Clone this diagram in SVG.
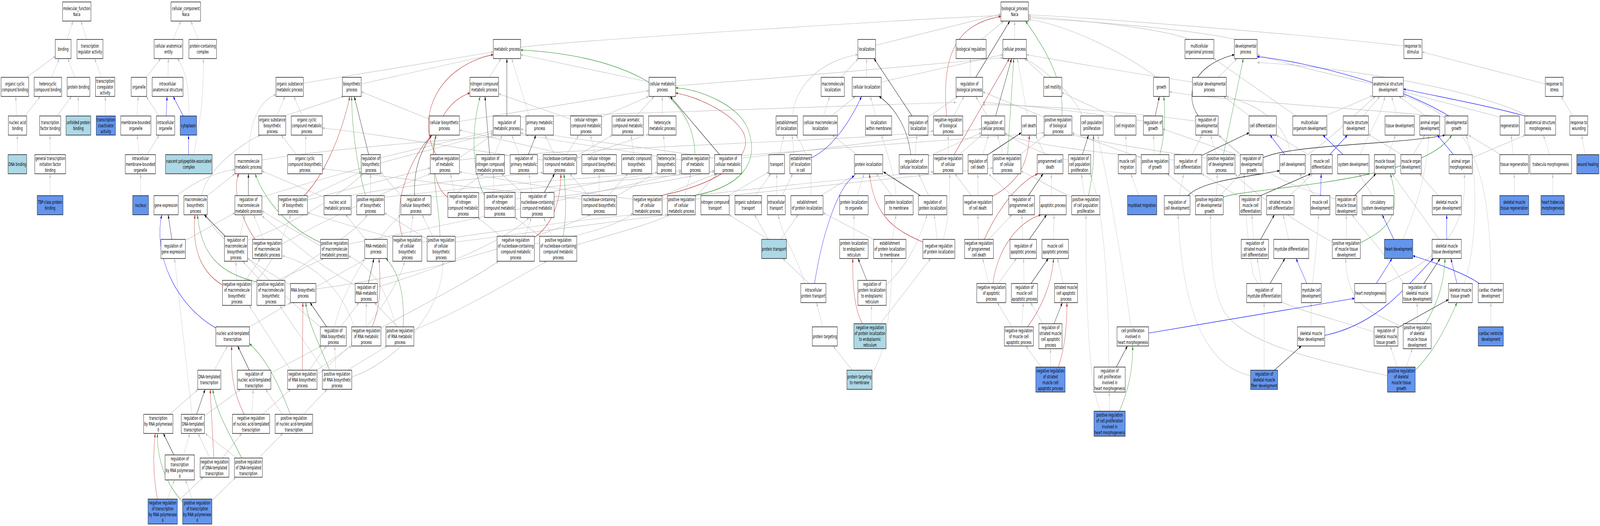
<svg xmlns="http://www.w3.org/2000/svg" width="7317" height="1347" viewBox="0 0 7317 1347" preserveAspectRatio="none">
<style>
svg{width:100vw;height:100vh}
text{font-family:"DejaVu Sans","Liberation Sans",sans-serif;font-size:13px;text-anchor:middle;fill:#000}
rect.bg{fill:#fff;stroke:none}
.n rect{fill:#fff;stroke:#000;stroke-width:1.3}
.lb rect{fill:#add8e6;stroke:#000;stroke-width:1.3}
.db rect{fill:#6495ed;stroke:#000;stroke-width:1.3}
#edges path{fill:none;stroke-width:1.2}
.e path{stroke:#bebebe;marker-end:url(#ae)}
.k path{stroke:#000;marker-end:url(#ak)}
.r path{stroke:#b22222;marker-end:url(#ar)}
.g path{stroke:#228b22;marker-end:url(#ag)}
.b path{stroke:#0000ff;marker-end:url(#ab)}
</style>
<defs>
<marker id="ae" viewBox="0 0 10 7" refX="10" refY="3.5" markerWidth="10" markerHeight="7" markerUnits="userSpaceOnUse" orient="auto"><path d="M0,0L10,3.5L0,7z" fill="#bebebe"/></marker>
<marker id="ak" viewBox="0 0 10 7" refX="10" refY="3.5" markerWidth="10" markerHeight="7" markerUnits="userSpaceOnUse" orient="auto"><path d="M0,0L10,3.5L0,7z" fill="#000"/></marker>
<marker id="ar" viewBox="0 0 10 7" refX="10" refY="3.5" markerWidth="10" markerHeight="7" markerUnits="userSpaceOnUse" orient="auto"><path d="M0,0L10,3.5L0,7z" fill="#b22222"/></marker>
<marker id="ag" viewBox="0 0 10 7" refX="10" refY="3.5" markerWidth="10" markerHeight="7" markerUnits="userSpaceOnUse" orient="auto"><path d="M0,0L10,3.5L0,7z" fill="#228b22"/></marker>
<marker id="ab" viewBox="0 0 10 7" refX="10" refY="3.5" markerWidth="10" markerHeight="7" markerUnits="userSpaceOnUse" orient="auto"><path d="M0,0L10,3.5L0,7z" fill="#0000ff"/></marker>
</defs>
<rect class="bg" x="0" y="0" width="7317" height="1347"/>
<g id="edges">
<g class="e">
<path d="M306,101L334,54"/><path d="M396,101L370,54"/><path d="M122,198L253,144"/><path d="M236,198L271,150"/><path d="M342,198L310,150"/><path d="M464,198L433,150"/><path d="M76,297L72,247"/><path d="M114,297L184,247"/><path d="M261,297L327,247"/><path d="M358,297L358,247"/><path d="M482,297L482,247"/><path d="M79,396L79,346"/><path d="M229,396L229,346"/><path d="M229,501L229,445"/><path d="M791,101L827,54"/><path d="M907,101L873,54"/><path d="M669,198L735,150"/><path d="M768,198L770,150"/><path d="M864,297C864,220 850,180 811,150"/><path d="M626,297L632,247"/><path d="M727,297L669,247"/><path d="M637,396L627,346"/><path d="M672,396L728,346"/><path d="M643,501L643,445"/><path d="M885,396C920,300 930,250 930,150"/>
<path d="M2381,121C2700,100 4300,45 4577,40"/><path d="M4004,116L4577,36"/><path d="M4490,101L4590,54"/><path d="M4640,101L4640,54"/><path d="M5440,101C5300,70 4900,50 4703,42"/><path d="M5650,101C5400,70 4900,52 4703,46"/><path d="M6420,118C6000,90 5000,45 4703,38"/><path d="M5290,198C5100,120 4850,60 4703,50"/><path d="M4780,198L4685,150"/>
<path d="M3624,297C3640,200 3800,150 3923,140"/><path d="M3845,198L3925,150"/><path d="M3963,198L3963,150"/><path d="M4030,210L4586,140"/><path d="M3565,396L3585,346"/><path d="M3632,396L3622,346"/><path d="M3766,297L3794,247"/><path d="M3802,297L3912,247"/><path d="M4006,297L3980,247"/><path d="M4244,300L4380,247"/><path d="M3920,396L3806,346"/><path d="M4185,396L4193,346"/><path d="M4246,400L4488,340"/><path d="M3707,501C3720,430 3680,380 3640,346"/><path d="M3754,501L3915,445"/><path d="M3920,501L3952,445"/><path d="M4078,501L4007,445"/><path d="M4098,501C4090,440 4050,380 4031,346"/><path d="M4247,501L4201,445"/><path d="M3905,613L3905,550"/><path d="M4081,613L4098,550"/><path d="M3995,613L3765,545"/><path d="M4286,613L4272,550"/><path d="M4314,613C4340,560 4345,500 4343,445"/><path d="M3680,726C3650,660 3570,600 3560,550"/><path d="M3700,726L3580,662"/><path d="M3513,613L3334,550"/><path d="M3515,613L3450,550"/><path d="M3571,613L3650,550"/><path d="M3330,501L3517,440"/><path d="M3454,501L3525,445"/><path d="M3552,501L3552,445"/><path d="M3576,501L3625,445"/><path d="M4053,730C4150,680 4200,620 4240,550"/><path d="M3762,837L3734,775"/><path d="M3984,829L3986,782"/><path d="M4025,829L4256,662"/><path d="M3897,948L3810,886"/><path d="M3988,955C4060,900 4080,750 4078,662"/>
<path d="M4436,198L4438,150"/><path d="M4362,297L4408,247"/><path d="M4515,297L4462,247"/><path d="M4775,300L4494,235"/><path d="M4699,297L4652,150"/><path d="M4387,396L4490,345"/><path d="M4336,396L4336,346"/><path d="M4588,396L4561,346"/><path d="M4660,398L4780,346"/><path d="M4494,396L4521,346"/><path d="M4778,396L4735,346"/><path d="M4472,501L4472,445"/><path d="M4442,501L4367,445"/><path d="M4628,501L4521,445"/><path d="M4808,501L4808,445"/><path d="M4521,613L4628,550"/><path d="M4475,613L4472,550"/><path d="M4677,613L4673,550"/><path d="M4818,613L4820,550"/><path d="M4565,726L4648,662"/><path d="M4521,726L4494,662"/><path d="M4683,726L4681,662"/><path d="M4863,726L4836,662"/><path d="M4672,837L4680,775"/><path d="M4628,837L4561,775"/><path d="M4769,829L4713,775"/><path d="M4804,940L4804,893"/><path d="M4761,940L4691,886"/>
<path d="M1387,213L2256,133"/><path d="M1652,215L2256,139"/><path d="M2239,198L2291,150"/><path d="M2968,210L2381,140"/><path d="M2420,297L2340,150"/><path d="M1266,297L1303,247"/><path d="M1300,297L1570,247"/><path d="M1383,297L1344,247"/><path d="M1963,305L1652,235"/><path d="M2101,311L2968,232"/><path d="M3090,220C3600,200 4300,160 4586,148"/><path d="M2379,300L4372,262"/><path d="M1398,396L1398,346"/><path d="M1356,396L1286,346"/><path d="M1740,404L2255,335"/><path d="M2101,404L2256,344"/><path d="M2101,410C2500,380 4000,360 4269,335"/><path d="M2262,396L2297,346"/><path d="M2375,396L2340,346"/><path d="M1138,396C1140,300 1200,255 1262,242"/><path d="M1198,410C1500,380 2200,350 2420,346"/><path d="M1198,505C1500,450 2000,380 2255,340"/><path d="M809,501C900,460 1000,440 1074,434"/><path d="M948,501L1074,445"/><path d="M922,501C950,430 1100,370 1190,346"/><path d="M1406,505L1652,440"/><path d="M1406,512L1968,430"/><path d="M1597,501C1900,470 2300,450 2484,442"/><path d="M1482,505L1198,438"/><path d="M1695,501L1695,445"/><path d="M1758,505C2300,470 2900,445 3116,440"/><path d="M1834,501L1740,440"/><path d="M1971,505C2500,480 3100,450 3268,440"/><path d="M2091,493L2211,445"/><path d="M2079,493L2060,445"/><path d="M2258,493L2258,445"/><path d="M2356,510C2700,470 3000,440 3116,436"/><path d="M2387,493L2293,445"/><path d="M2534,505C2900,480 3200,450 3268,436"/><path d="M2431,493L2420,445"/><path d="M2609,305L2280,240"/><path d="M2750,300L2966,247"/><path d="M2910,297L2991,247"/><path d="M3029,297L3029,247"/><path d="M2536,396L2492,346"/><path d="M2591,396L2647,346"/><path d="M2635,400L2800,346"/><path d="M2637,405L2966,344"/><path d="M2484,410C2200,390 1700,340 1474,328"/><path d="M2723,396L2700,346"/><path d="M2661,405L2101,333"/><path d="M2898,396L2886,346"/><path d="M3042,396L3034,346"/><path d="M3116,410C2800,380 2500,360 2380,340"/><path d="M3243,405C3800,380 4500,350 4775,340"/><path d="M3268,405C3000,380 2500,350 2380,330"/><path d="M3391,405C3800,380 4300,340 4488,330"/><path d="M2692,501L2606,445"/><path d="M2740,501L2740,445"/><path d="M2781,501L2871,445"/><path d="M2812,505L3005,440"/><path d="M2661,510C2300,490 1700,450 1474,432"/><path d="M3011,505L3275,445"/><path d="M2895,510C2600,490 2300,460 2101,440"/><path d="M3028,510C3500,480 4000,450 4269,440"/><path d="M3178,505L3280,445"/><path d="M3131,501L3159,445"/><path d="M3180,510C3700,480 4300,440 4541,430"/><path d="M1877,605L1889,550"/><path d="M1796,610L1406,545"/><path d="M1929,620C2300,590 2700,560 2895,550"/><path d="M1978,605L1931,550"/><path d="M1953,612L1758,545"/><path d="M2082,620C2500,590 2900,560 3052,550"/><path d="M2400,605L2430,557"/><path d="M2290,605L2185,557"/><path d="M2444,625C2700,600 2850,570 2895,545"/><path d="M2524,605L2486,557"/><path d="M2470,605L2355,557"/><path d="M2638,627C2800,600 3000,570 3061,550"/><path d="M1671,613L1581,550"/><path d="M1205,613L1160,550"/><path d="M1289,625C1500,560 1800,480 1968,445"/><path d="M1466,630L1198,540"/><path d="M1593,625C2200,560 2900,470 3116,444"/><path d="M848,616L1074,545"/><path d="M1097,605L1120,550"/><path d="M1132,615C1400,560 1600,480 1660,445"/><path d="M1082,718L1079,669"/><path d="M1124,718L1190,662"/><path d="M1150,730C1250,680 1300,600 1330,550"/><path d="M1190,718L1110,669"/><path d="M1270,718L1480,662"/><path d="M1290,718C1450,650 1620,600 1680,550"/><path d="M1445,735L1668,665"/><path d="M1445,740C2000,700 2500,600 2700,550"/><path d="M1330,730C1200,690 1000,620 940,550"/><path d="M1141,837L1330,775"/><path d="M1726,735C2000,690 2300,620 2420,557"/><path d="M1624,730C1450,680 1300,600 1198,553"/><path d="M1558,837L1641,775"/><path d="M1530,837C1560,750 1700,620 1833,550"/><path d="M1470,840C1300,760 1200,700 1132,660"/><path d="M1675,837L1675,775"/><path d="M1742,840C1900,790 2150,720 2280,669"/><path d="M1620,837C1550,720 1400,670 1290,655"/><path d="M1819,837L1712,775"/><path d="M1893,845C2100,800 2400,700 2500,669"/><path d="M1810,837C1760,720 1680,680 1593,655"/><path d="M1414,948L1492,886"/><path d="M1449,948L1608,886"/><path d="M1330,948C1250,880 1180,820 1140,782"/><path d="M1450,960C1700,850 1830,720 1850,669"/><path d="M1535,948L1531,886"/><path d="M1590,948L1770,886"/><path d="M1609,965C1800,930 2030,800 2025,669"/><path d="M1480,948C1400,880 1320,820 1280,782"/><path d="M980,948L1040,886"/><path d="M1239,955L1470,886"/><path d="M1152,1061L1158,997"/><path d="M1200,1061L1330,997"/><path d="M1290,1061L1215,997"/><path d="M1387,1061L1496,997"/><path d="M776,1061L906,997"/><path d="M935,1065L1101,997"/><path d="M878,1061L798,662"/><path d="M959,1173L906,1110"/><path d="M1018,1173L1105,1110"/><path d="M1082,1173L938,1110"/><path d="M1183,1173L1293,1110"/><path d="M840,1165L868,1110"/><path d="M766,1278L798,1229"/><path d="M811,1285L930,1222"/><path d="M879,1278L848,1229"/><path d="M969,1282L1078,1222"/>
<path d="M5571,198L5657,150"/><path d="M5453,210C5200,190 4900,160 4694,140"/><path d="M4950,297C4900,230 4750,170 4690,150"/><path d="M5229,310C5000,290 4700,270 4494,262"/><path d="M5468,310C5200,290 4800,270 4494,268"/><path d="M5714,297L5595,247"/><path d="M5927,297L5551,150"/><path d="M6060,297L6277,245"/><path d="M5098,300L4856,237"/><path d="M4886,410C4800,400 4700,380 4595,340"/><path d="M5152,396L5148,346"/><path d="M5279,396L5275,346"/><path d="M5219,405C5100,380 5000,360 4902,340"/><path d="M5453,396L5496,346"/><path d="M5370,410C5000,390 4700,370 4595,343"/><path d="M5563,396L5536,346"/><path d="M5520,405C5200,380 5000,360 4902,345"/><path d="M5674,400L5317,330"/><path d="M5674,396L5575,346"/><path d="M5903,396C5880,300 5700,260 5608,247"/><path d="M5969,400C6100,350 6200,290 6290,247"/><path d="M5995,400L5837,346"/><path d="M4958,501L4946,445"/><path d="M4903,505C4800,480 4720,450 4669,438"/><path d="M5207,501L5172,445"/><path d="M5393,501L5413,445"/><path d="M5579,501L5674,445"/><path d="M5468,505L5338,445"/><path d="M5563,501L5567,445"/><path d="M5670,505L5496,445"/><path d="M5899,501L6002,445"/><path d="M6010,501L5943,445"/><path d="M5733,613L5725,550"/><path d="M5893,613L5868,550"/><path d="M5769,726L5749,662"/><path d="M6002,726C6010,680 6025,620 6030,550"/><path d="M5172,837C5140,700 5080,500 5020,346"/><path d="M5996,837L5996,775"/><path d="M5071,940C5070,700 5040,520 4985,445"/><path d="M5781,948L5781,775"/><path d="M5719,962C5450,930 5400,700 5387,550"/><path d="M5073,1053L5073,1004"/><path d="M5033,1053C4970,980 4966,700 4966,550"/><path d="M6277,215C6000,180 5800,150 5749,140"/><path d="M7067,215L6503,133"/><path d="M6235,297L6310,247"/><path d="M6389,297L6364,247"/><path d="M6520,297L6398,247"/><path d="M6608,300C6300,280 5600,260 5347,235"/><path d="M6860,300L6418,235"/><path d="M6990,297C6700,220 6100,170 5749,160"/><path d="M7192,297L7139,247"/><path d="M6219,396C6260,340 6320,290 6333,247"/><path d="M6349,396L6382,346"/><path d="M6410,396L6258,344"/><path d="M6463,396L6516,346"/><path d="M6733,404L6975,346"/><path d="M6920,396L6911,346"/><path d="M6862,396L6716,346"/><path d="M7086,396L7058,346"/><path d="M7249,396L7233,346"/><path d="M6109,510C5900,480 5700,420 5571,346"/><path d="M6276,501L6215,445"/><path d="M6577,501L6492,445"/><path d="M6925,501L6925,445"/><path d="M7101,501L7101,445"/><path d="M6157,613L6157,550"/><path d="M6093,620C5900,560 5700,480 5648,445"/><path d="M6415,613C6480,530 6530,430 6533,346"/><path d="M6582,613L6366,445"/><path d="M6335,726C6500,680 6720,620 6696,445"/><path d="M6419,727C6350,660 6250,600 6183,550"/><path d="M6696,726C6760,620 6760,420 6704,346"/><path d="M6818,726C6818,400 6700,300 6418,245"/><path d="M6284,850C5950,790 5780,780 5730,700C5700,600 5690,500 5690,445"/><path d="M6481,829L6481,775"/><path d="M6419,840C6300,800 6160,800 6154,662"/><path d="M6818,837L6818,775"/><path d="M6389,940L6358,886"/><path d="M6431,940L6459,893"/><path d="M6345,962C6000,920 5700,880 5600,800C5540,740 5536,640 5536,550"/>
</g>
<g class="k">
<path d="M4462,198L4618,54"/><path d="M4553,297L4626,150"/><path d="M4171,297L3997,150"/><path d="M4165,396C4150,320 4080,270 4020,247"/><path d="M4209,501L4040,440"/><path d="M3964,718L3924,662"/><path d="M4513,398L4670,340"/><path d="M4703,501L4770,445"/><path d="M4707,613L4786,550"/><path d="M4715,726L4794,662"/><path d="M4820,829L4858,775"/><path d="M2318,297L2318,150"/><path d="M1686,396L1620,247"/><path d="M2239,396L2218,247"/><path d="M2416,396L2451,346"/><path d="M1896,501C1890,430 1930,380 1975,346"/><path d="M2489,493L2536,445"/><path d="M3291,396L3065,247"/><path d="M1136,501L1136,445"/><path d="M786,613L769,550"/><path d="M1030,605L934,550"/><path d="M1684,726L1710,662"/><path d="M1494,837L1418,775"/><path d="M1140,948L1087,886"/><path d="M899,1061L938,997"/><path d="M795,1165L747,1110"/><path d="M5283,297L5302,247"/><path d="M5480,297C5420,250 5440,170 5645,140"/><path d="M4950,396L4978,346"/><path d="M5496,398L5712,340"/><path d="M5776,404C5900,370 6400,370 6608,346"/><path d="M5433,501C5500,460 5750,450 5852,437"/><path d="M5765,501L5994,445"/><path d="M5765,613L5828,550"/><path d="M5808,726L5876,662"/><path d="M5105,940L5156,886"/><path d="M5828,948L5951,886"/><path d="M6195,501L6292,445"/><path d="M6511,726L6586,662"/><path d="M6390,840L6624,767"/>
</g>
<g class="r">
<path d="M4329,297C4300,120 4400,60 4577,42"/><path d="M4363,396L4616,150"/><path d="M4220,620C4100,590 4000,560 3976,445"/><path d="M3944,829C3905,790 3898,720 3900,662"/><path d="M4537,503C4650,470 4705,420 4707,346"/><path d="M4501,613C4560,540 4650,470 4745,445"/><path d="M4541,726C4560,640 4650,570 4760,550"/><path d="M4699,837C4760,790 4810,730 4818,662"/><path d="M4840,940C4870,890 4880,830 4879,775"/><path d="M1994,396C1900,300 2000,170 2256,140"/><path d="M1391,501C1480,450 1560,350 1600,247"/><path d="M2048,505C1950,470 1940,280 2149,238"/><path d="M3022,501C3300,470 3450,400 3400,340C3350,290 3200,250 3090,238"/><path d="M1840,605C1790,520 1880,400 1975,346"/><path d="M2444,608C2540,570 2565,500 2565,445"/><path d="M1167,613C1100,560 1060,480 1093,445"/><path d="M1017,730C900,690 880,620 892,550"/><path d="M1702,837C1745,780 1740,720 1733,662"/><path d="M1383,948L1385,775"/><path d="M1117,1061C1060,1000 1055,940 1060,886"/><path d="M978,1173L961,997"/><path d="M720,1278C700,1220 700,1160 710,1110"/>
</g>
<g class="g">
<path d="M4856,297C4870,200 4760,110 4690,54"/><path d="M4608,396L4636,150"/><path d="M3178,396C3175,220 2800,140 2381,128"/><path d="M1672,501C1630,420 1610,330 1608,247"/><path d="M2215,500C2150,430 2160,320 2196,247"/><path d="M3170,501C3380,480 3480,420 3420,330C3380,270 3200,228 3090,225"/><path d="M2012,605C2010,520 1960,420 1995,346"/><path d="M2575,605C2595,540 2585,490 2579,445"/><path d="M1466,621C1300,580 1200,500 1167,445"/><path d="M1175,722C1000,700 920,650 903,550"/><path d="M1844,837C1850,760 1830,700 1765,662"/><path d="M1507,948C1460,880 1410,830 1398,775"/><path d="M1328,1061C1280,990 1220,920 1141,880"/><path d="M1105,1173C1060,1120 990,1060 973,997"/><path d="M835,1285C760,1240 718,1180 720,1110"/><path d="M5304,396C5330,340 5330,290 5322,247"/><path d="M5595,396L5686,150"/><path d="M4978,501C5000,440 5005,400 5000,346"/><path d="M5594,505C5700,480 6500,470 6639,346"/><path d="M5119,1053C5160,1000 5180,950 5180,886"/><path d="M6221,622C6330,590 6420,560 6358,445"/><path d="M6519,829C6580,770 6605,720 6608,662"/><path d="M6472,948C6560,900 6620,830 6663,775"/>
</g>
<g class="b">
<path d="M760,297L764,247"/><path d="M838,297L792,247"/><path d="M862,396L862,346"/><path d="M3711,404C3800,380 3880,320 3940,247"/><path d="M3725,726C3760,600 3830,480 3907,450"/><path d="M987,840C800,780 700,650 740,550"/><path d="M5876,396L5808,346"/><path d="M6081,396L6162,346"/><path d="M6039,501L6042,445"/><path d="M5976,726L5927,662"/><path d="M5253,853L6195,764"/><path d="M6058,859C6300,830 6420,740 6555,662"/><path d="M6973,297C6800,270 6600,250 6418,228"/><path d="M6626,297C6400,220 6000,160 5749,145"/><path d="M6142,396L6050,346"/><path d="M6647,396L6573,346"/><path d="M6374,613L6321,550"/><path d="M6616,613L6616,550"/><path d="M6294,726L6366,662"/><path d="M6663,726L6635,662"/><path d="M6765,726C6700,700 6550,670 6461,655"/>
</g>
</g>
<g id="nodes">
<g id="mf" class="n"><rect x="286" y="5" width="130" height="49"/><text x="351" y="26.5">molecular_function<tspan x="351" dy="15">Naca</tspan></text></g>
<g id="cc" class="n"><rect x="782" y="5" width="135" height="49"/><text x="849.5" y="26.5">cellular_component<tspan x="849.5" dy="15">Naca</tspan></text></g>
<g id="bp" class="n"><rect x="4577" y="5" width="126" height="49"/><text x="4640" y="26.5">biological_process<tspan x="4640" dy="15">Naca</tspan></text></g>

<g id="binding" class="n"><rect x="253" y="101" width="72" height="49"/><text x="289" y="130">binding</text></g>
<g id="trreg" class="n"><rect x="352" y="101" width="119" height="49"/><text x="411.5" y="122.5">transcription<tspan x="411.5" dy="15">regulator activity</tspan></text></g>
<g id="cae" class="n"><rect x="705" y="101" width="131" height="49"/><text x="770.5" y="122.5">cellular anatomical<tspan x="770.5" dy="15">entity</tspan></text></g>
<g id="pcc" class="n"><rect x="864" y="101" width="126" height="49"/><text x="927" y="122.5">protein-containing<tspan x="927" dy="15">complex</tspan></text></g>
<g id="mp" class="n"><rect x="2256" y="101" width="125" height="49"/><text x="2318.5" y="130">metabolic process</text></g>
<g id="loc" class="n"><rect x="3923" y="101" width="81" height="49"/><text x="3963.5" y="130">localization</text></g>
<g id="breg" class="n"><rect x="4372" y="101" width="138" height="49"/><text x="4441" y="130">biological regulation</text></g>
<g id="cp" class="n"><rect x="4586" y="101" width="108" height="49"/><text x="4640" y="130">cellular process</text></g>
<g id="mop" class="n"><rect x="5419" y="101" width="132" height="49"/><text x="5485" y="122.5">multicellular<tspan x="5485" dy="15">organismal process</tspan></text></g>
<g id="devp" class="n"><rect x="5645" y="101" width="104" height="49"/><text x="5697" y="122.5">developmental<tspan x="5697" dy="15">process</tspan></text></g>
<g id="rts" class="n"><rect x="6420" y="101" width="83" height="49"/><text x="6461.5" y="122.5">response to<tspan x="6461.5" dy="15">stimulus</tspan></text></g>

<g id="occb" class="n"><rect x="5" y="198" width="126" height="49"/><text x="68" y="219.5">organic cyclic<tspan x="68" dy="15">compound binding</tspan></text></g>
<g id="hcb" class="n"><rect x="156" y="198" width="126" height="49"/><text x="219" y="219.5">heterocyclic<tspan x="219" dy="15">compound binding</tspan></text></g>
<g id="pb" class="n"><rect x="307" y="198" width="104" height="49"/><text x="359" y="227">protein binding</text></g>
<g id="tcoreg" class="n"><rect x="437" y="198" width="88" height="49"/><text x="481" y="212">transcription<tspan x="481" dy="15">coregulator</tspan><tspan x="481" dy="15">activity</tspan></text></g>
<g id="organelle" class="n"><rect x="600" y="198" width="71" height="49"/><text x="635.5" y="227">organelle</text></g>
<g id="ias" class="n"><rect x="696" y="198" width="141" height="49"/><text x="766.5" y="219.5">intracellular<tspan x="766.5" dy="15">anatomical structure</tspan></text></g>
<g id="osmp" class="n"><rect x="1262" y="198" width="125" height="49"/><text x="1324.5" y="219.5">organic substance<tspan x="1324.5" dy="15">metabolic process</tspan></text></g>
<g id="bsp" class="n"><rect x="1566" y="198" width="86" height="49"/><text x="1609" y="219.5">biosynthetic<tspan x="1609" dy="15">process</tspan></text></g>
<g id="ncmp" class="n"><rect x="2149" y="198" width="131" height="49"/><text x="2214.5" y="219.5">nitrogen compound<tspan x="2214.5" dy="15">metabolic process</tspan></text></g>
<g id="cmp" class="n"><rect x="2968" y="198" width="122" height="49"/><text x="3029" y="219.5">cellular metabolic<tspan x="3029" dy="15">process</tspan></text></g>
<g id="macloc" class="n"><rect x="3755" y="198" width="106" height="49"/><text x="3808" y="219.5">macromolecule<tspan x="3808" dy="15">localization</tspan></text></g>
<g id="cloc" class="n"><rect x="3897" y="198" width="133" height="49"/><text x="3963.5" y="227">cellular localization</text></g>
<g id="rbp" class="n"><rect x="4372" y="198" width="122" height="49"/><text x="4433" y="219.5">regulation of<tspan x="4433" dy="15">biological process</tspan></text></g>
<g id="cmot" class="n"><rect x="4773" y="198" width="83" height="49"/><text x="4814.5" y="227">cell motility</text></g>
<g id="growth" class="n"><rect x="5275" y="198" width="72" height="49"/><text x="5311" y="227">growth</text></g>
<g id="cdp" class="n"><rect x="5453" y="198" width="155" height="49"/><text x="5530.5" y="219.5">cellular developmental<tspan x="5530.5" dy="15">process</tspan></text></g>
<g id="asd" class="n"><rect x="6277" y="198" width="141" height="49"/><text x="6347.5" y="219.5">anatomical structure<tspan x="6347.5" dy="15">development</tspan></text></g>
<g id="rtstress" class="n"><rect x="7067" y="198" width="82" height="49"/><text x="7108" y="219.5">response to<tspan x="7108" dy="15">stress</tspan></text></g>

<g id="nab" class="n"><rect x="38" y="297" width="84" height="49"/><text x="80" y="318.5">nucleic acid<tspan x="80" dy="15">binding</tspan></text></g>
<g id="tfb" class="n"><rect x="181" y="297" width="97" height="49"/><text x="229.5" y="318.5">transcription<tspan x="229.5" dy="15">factor binding</tspan></text></g>
<g id="upb" class="lb"><rect x="302" y="297" width="113" height="49"/><text x="358.5" y="318.5">unfolded protein<tspan x="358.5" dy="15">binding</tspan></text></g>
<g id="tcoact" class="db"><rect x="440" y="297" width="88" height="49"/><text x="484" y="311">transcription<tspan x="484" dy="15">coactivator</tspan><tspan x="484" dy="15">activity</tspan></text></g>
<g id="mbo" class="n"><rect x="552" y="297" width="138" height="49"/><text x="621" y="318.5">membrane-bounded<tspan x="621" dy="15">organelle</tspan></text></g>
<g id="io" class="n"><rect x="715" y="297" width="84" height="49"/><text x="757" y="318.5">intracellular<tspan x="757" dy="15">organelle</tspan></text></g>
<g id="cyto" class="db"><rect x="824" y="297" width="75" height="49"/><text x="861.5" y="326">cytoplasm</text></g>
<g id="osbp" class="n"><rect x="1183" y="297" width="124" height="49"/><text x="1245" y="311">organic substance<tspan x="1245" dy="15">biosynthetic</tspan><tspan x="1245" dy="15">process</tspan></text></g>
<g id="occmp" class="n"><rect x="1332" y="297" width="142" height="49"/><text x="1403" y="311">organic cyclic<tspan x="1403" dy="15">compound metabolic</tspan><tspan x="1403" dy="15">process</tspan></text></g>
<g id="cbp" class="n"><rect x="1963" y="297" width="138" height="49"/><text x="2032" y="318.5">cellular biosynthetic<tspan x="2032" dy="15">process</tspan></text></g>
<g id="rmp" class="n"><rect x="2255" y="297" width="125" height="49"/><text x="2317.5" y="318.5">regulation of<tspan x="2317.5" dy="15">metabolic process</tspan></text></g>
<g id="pmp" class="n"><rect x="2405" y="297" width="126" height="49"/><text x="2468" y="318.5">primary metabolic<tspan x="2468" dy="15">process</tspan></text></g>
<g id="cncmp" class="n"><rect x="2609" y="297" width="142" height="49"/><text x="2680" y="311">cellular nitrogen<tspan x="2680" dy="15">compound metabolic</tspan><tspan x="2680" dy="15">process</tspan></text></g>
<g id="cacmp" class="n"><rect x="2799" y="297" width="143" height="49"/><text x="2870.5" y="311">cellular aromatic<tspan x="2870.5" dy="15">compound metabolic</tspan><tspan x="2870.5" dy="15">process</tspan></text></g>
<g id="hmp" class="n"><rect x="2966" y="297" width="126" height="49"/><text x="3029" y="318.5">heterocycle<tspan x="3029" dy="15">metabolic process</tspan></text></g>
<g id="eol" class="n"><rect x="3549" y="297" width="98" height="49"/><text x="3598" y="318.5">establishment<tspan x="3598" dy="15">of localization</tspan></text></g>
<g id="cmacloc" class="n"><rect x="3673" y="297" width="157" height="49"/><text x="3751.5" y="318.5">cellular macromolecule<tspan x="3751.5" dy="15">localization</tspan></text></g>
<g id="lwm" class="n"><rect x="3958" y="297" width="120" height="49"/><text x="4018" y="318.5">localization<tspan x="4018" dy="15">within membrane</tspan></text></g>
<g id="rloc" class="n"><rect x="4156" y="297" width="88" height="49"/><text x="4200" y="318.5">regulation of<tspan x="4200" dy="15">localization</tspan></text></g>
<g id="nrbp" class="n"><rect x="4269" y="297" width="134" height="49"/><text x="4336" y="311">negative regulation<tspan x="4336" dy="15">of biological</tspan><tspan x="4336" dy="15">process</tspan></text></g>
<g id="rcp" class="n"><rect x="4488" y="297" width="107" height="49"/><text x="4541.5" y="318.5">regulation of<tspan x="4541.5" dy="15">cellular process</tspan></text></g>
<g id="cdeath" class="n"><rect x="4671" y="297" width="69" height="49"/><text x="4705.5" y="326">cell death</text></g>
<g id="prbp" class="n"><rect x="4775" y="297" width="127" height="49"/><text x="4838.5" y="311">positive regulation<tspan x="4838.5" dy="15">of biological</tspan><tspan x="4838.5" dy="15">process</tspan></text></g>
<g id="cpp" class="n"><rect x="4942" y="297" width="103" height="49"/><text x="4993.5" y="318.5">cell population<tspan x="4993.5" dy="15">proliferation</tspan></text></g>
<g id="cmig" class="n"><rect x="5098" y="297" width="97" height="49"/><text x="5146.5" y="326">cell migration</text></g>
<g id="rgrowth" class="n"><rect x="5229" y="297" width="88" height="49"/><text x="5273" y="318.5">regulation of<tspan x="5273" dy="15">growth</tspan></text></g>
<g id="rdevp" class="n"><rect x="5468" y="297" width="103" height="49"/><text x="5519.5" y="311">regulation of<tspan x="5519.5" dy="15">developmental</tspan><tspan x="5519.5" dy="15">process</tspan></text></g>
<g id="cdiff" class="n"><rect x="5712" y="297" width="125" height="49"/><text x="5774.5" y="326">cell differentiation</text></g>
<g id="mod" class="n"><rect x="5912" y="297" width="156" height="49"/><text x="5990" y="318.5">multicellular<tspan x="5990" dy="15">organism development</tspan></text></g>
<g id="msd" class="n"><rect x="6143" y="297" width="115" height="49"/><text x="6200.5" y="318.5">muscle structure<tspan x="6200.5" dy="15">development</tspan></text></g>
<g id="tdev" class="n"><rect x="6334" y="297" width="134" height="49"/><text x="6401" y="326">tissue development</text></g>
<g id="aod" class="n"><rect x="6493" y="297" width="91" height="49"/><text x="6538.5" y="318.5">animal organ<tspan x="6538.5" dy="15">development</tspan></text></g>
<g id="dgrowth" class="n"><rect x="6608" y="297" width="105" height="49"/><text x="6660.5" y="318.5">developmental<tspan x="6660.5" dy="15">growth</tspan></text></g>
<g id="regen" class="n"><rect x="6860" y="297" width="88" height="49"/><text x="6904" y="326">regeneration</text></g>
<g id="asm" class="n"><rect x="6973" y="297" width="141" height="49"/><text x="7043.5" y="318.5">anatomical structure<tspan x="7043.5" dy="15">morphogenesis</tspan></text></g>
<g id="rtw" class="n"><rect x="7179" y="297" width="82" height="49"/><text x="7220" y="318.5">response to<tspan x="7220" dy="15">wounding</tspan></text></g>

<g id="dnab" class="lb"><rect x="37" y="396" width="85" height="49"/><text x="79.5" y="425">DNA binding</text></g>
<g id="gtifb" class="n"><rect x="159" y="396" width="141" height="49"/><text x="229.5" y="410">general transcription<tspan x="229.5" dy="15">initiation factor</tspan><tspan x="229.5" dy="15">binding</tspan></text></g>
<g id="imbo" class="n"><rect x="573" y="396" width="138" height="49"/><text x="642" y="410">intracellular<tspan x="642" dy="15">membrane-bounded</tspan><tspan x="642" dy="15">organelle</tspan></text></g>
<g id="npac" class="lb"><rect x="757" y="396" width="213" height="49"/><text x="863.5" y="417.5">nascent polypeptide-associated<tspan x="863.5" dy="15">complex</tspan></text></g>
<g id="mmp" class="n"><rect x="1074" y="396" width="124" height="49"/><text x="1136" y="417.5">macromolecule<tspan x="1136" dy="15">metabolic process</tspan></text></g>
<g id="occbp" class="n"><rect x="1315" y="396" width="159" height="49"/><text x="1394.5" y="410">organic cyclic<tspan x="1394.5" dy="15">compound biosynthetic</tspan><tspan x="1394.5" dy="15">process</tspan></text></g>
<g id="rbsp" class="n"><rect x="1652" y="396" width="88" height="49"/><text x="1696" y="410">regulation of<tspan x="1696" dy="15">biosynthetic</tspan><tspan x="1696" dy="15">process</tspan></text></g>
<g id="nrmp" class="n"><rect x="1968" y="396" width="133" height="49"/><text x="2034.5" y="410">negative regulation<tspan x="2034.5" dy="15">of metabolic</tspan><tspan x="2034.5" dy="15">process</tspan></text></g>
<g id="rncmp" class="n"><rect x="2177" y="396" width="130" height="49"/><text x="2242" y="410">regulation of<tspan x="2242" dy="15">nitrogen compound</tspan><tspan x="2242" dy="15">metabolic process</tspan></text></g>
<g id="rpmp" class="n"><rect x="2333" y="396" width="125" height="49"/><text x="2395.5" y="410">regulation of<tspan x="2395.5" dy="15">primary metabolic</tspan><tspan x="2395.5" dy="15">process</tspan></text></g>
<g id="nccmp" class="n"><rect x="2484" y="396" width="153" height="49"/><text x="2560.5" y="410">nucleobase-containing<tspan x="2560.5" dy="15">compound metabolic</tspan><tspan x="2560.5" dy="15">process</tspan></text></g>
<g id="cncbp" class="n"><rect x="2661" y="396" width="158" height="49"/><text x="2740" y="410">cellular nitrogen<tspan x="2740" dy="15">compound biosynthetic</tspan><tspan x="2740" dy="15">process</tspan></text></g>
<g id="acbp" class="n"><rect x="2843" y="396" width="137" height="49"/><text x="2911.5" y="410">aromatic compound<tspan x="2911.5" dy="15">biosynthetic</tspan><tspan x="2911.5" dy="15">process</tspan></text></g>
<g id="hbp" class="n"><rect x="3005" y="396" width="85" height="49"/><text x="3047.5" y="410">heterocycle<tspan x="3047.5" dy="15">biosynthetic</tspan><tspan x="3047.5" dy="15">process</tspan></text></g>
<g id="prmp" class="n"><rect x="3116" y="396" width="127" height="49"/><text x="3179.5" y="410">positive regulation<tspan x="3179.5" dy="15">of metabolic</tspan><tspan x="3179.5" dy="15">process</tspan></text></g>
<g id="rcmp" class="n"><rect x="3268" y="396" width="123" height="49"/><text x="3329.5" y="410">regulation of<tspan x="3329.5" dy="15">cellular metabolic</tspan><tspan x="3329.5" dy="15">process</tspan></text></g>
<g id="transport" class="n"><rect x="3516" y="396" width="72" height="49"/><text x="3552" y="425">transport</text></g>
<g id="eolic" class="n"><rect x="3612" y="396" width="99" height="49"/><text x="3661.5" y="410">establishment<tspan x="3661.5" dy="15">of localization</tspan><tspan x="3661.5" dy="15">in cell</tspan></text></g>
<g id="ploc" class="n"><rect x="3907" y="396" width="130" height="49"/><text x="3972" y="425">protein localization</text></g>
<g id="rcloc" class="n"><rect x="4112" y="396" width="134" height="49"/><text x="4179" y="417.5">regulation of<tspan x="4179" dy="15">cellular localization</tspan></text></g>
<g id="nrcp" class="n"><rect x="4269" y="396" width="134" height="49"/><text x="4336" y="410">negative regulation<tspan x="4336" dy="15">of cellular</tspan><tspan x="4336" dy="15">process</tspan></text></g>
<g id="rcd" class="n"><rect x="4427" y="396" width="89" height="49"/><text x="4471.5" y="417.5">regulation of<tspan x="4471.5" dy="15">cell death</tspan></text></g>
<g id="prcp" class="n"><rect x="4541" y="396" width="128" height="49"/><text x="4605" y="410">positive regulation<tspan x="4605" dy="15">of cellular</tspan><tspan x="4605" dy="15">process</tspan></text></g>
<g id="pcd" class="n"><rect x="4743" y="396" width="118" height="49"/><text x="4802" y="417.5">programmed cell<tspan x="4802" dy="15">death</tspan></text></g>
<g id="rcpp" class="n"><rect x="4886" y="396" width="102" height="49"/><text x="4937" y="410">regulation of<tspan x="4937" dy="15">cell population</tspan><tspan x="4937" dy="15">proliferation</tspan></text></g>
<g id="mcm" class="n"><rect x="5114" y="396" width="81" height="49"/><text x="5154.5" y="417.5">muscle cell<tspan x="5154.5" dy="15">migration</tspan></text></g>
<g id="prgrowth" class="n"><rect x="5219" y="396" width="127" height="49"/><text x="5282.5" y="417.5">positive regulation<tspan x="5282.5" dy="15">of growth</tspan></text></g>
<g id="rcdiff" class="n"><rect x="5370" y="396" width="126" height="49"/><text x="5433" y="417.5">regulation of<tspan x="5433" dy="15">cell differentiation</tspan></text></g>
<g id="prdevp" class="n"><rect x="5520" y="396" width="128" height="49"/><text x="5584" y="410">positive regulation<tspan x="5584" dy="15">of developmental</tspan><tspan x="5584" dy="15">process</tspan></text></g>
<g id="rdg" class="n"><rect x="5672" y="396" width="104" height="49"/><text x="5724" y="410">regulation of<tspan x="5724" dy="15">developmental</tspan><tspan x="5724" dy="15">growth</tspan></text></g>
<g id="cdev" class="n"><rect x="5852" y="396" width="117" height="49"/><text x="5910.5" y="425">cell development</text></g>
<g id="mcd" class="n"><rect x="5995" y="396" width="98" height="49"/><text x="6044" y="417.5">muscle cell<tspan x="6044" dy="15">differentiation</tspan></text></g>
<g id="sysdev" class="n"><rect x="6117" y="396" width="144" height="49"/><text x="6189" y="425">system development</text></g>
<g id="mtd" class="n"><rect x="6285" y="396" width="95" height="49"/><text x="6332.5" y="417.5">muscle tissue<tspan x="6332.5" dy="15">development</tspan></text></g>
<g id="mod2" class="n"><rect x="6406" y="396" width="94" height="49"/><text x="6453" y="417.5">muscle organ<tspan x="6453" dy="15">development</tspan></text></g>
<g id="aom" class="n"><rect x="6627" y="396" width="106" height="49"/><text x="6680" y="417.5">animal organ<tspan x="6680" dy="15">morphogenesis</tspan></text></g>
<g id="treg" class="n"><rect x="6859" y="396" width="131" height="49"/><text x="6924.5" y="425">tissue regeneration</text></g>
<g id="tmorph" class="n"><rect x="6996" y="396" width="191" height="49"/><text x="7091.5" y="425">trabecula morphogenesis</text></g>
<g id="wh" class="db"><rect x="7211" y="396" width="101" height="49"/><text x="7261.5" y="425">wound healing</text></g>

<g id="tbp" class="db"><rect x="170" y="501" width="118" height="49"/><text x="229" y="522.5">TBP-class protein<tspan x="229" dy="15">binding</tspan></text></g>
<g id="nucleus" class="db"><rect x="607" y="501" width="72" height="49"/><text x="643" y="530">nucleus</text></g>
<g id="ge" class="n"><rect x="704" y="501" width="111" height="49"/><text x="759.5" y="530">gene expression</text></g>
<g id="mbp" class="n"><rect x="841" y="501" width="107" height="49"/><text x="894.5" y="515">macromolecule<tspan x="894.5" dy="15">biosynthetic</tspan><tspan x="894.5" dy="15">process</tspan></text></g>
<g id="rmmp" class="n"><rect x="1074" y="501" width="124" height="49"/><text x="1136" y="515">regulation of<tspan x="1136" dy="15">macromolecule</tspan><tspan x="1136" dy="15">metabolic process</tspan></text></g>
<g id="nrbsp" class="n"><rect x="1273" y="501" width="133" height="49"/><text x="1339.5" y="515">negative regulation<tspan x="1339.5" dy="15">of biosynthetic</tspan><tspan x="1339.5" dy="15">process</tspan></text></g>
<g id="namp" class="n"><rect x="1482" y="501" width="124" height="49"/><text x="1544" y="522.5">nucleic acid<tspan x="1544" dy="15">metabolic process</tspan></text></g>
<g id="prbsp" class="n"><rect x="1631" y="501" width="127" height="49"/><text x="1694.5" y="515">positive regulation<tspan x="1694.5" dy="15">of biosynthetic</tspan><tspan x="1694.5" dy="15">process</tspan></text></g>
<g id="rcbp" class="n"><rect x="1833" y="501" width="138" height="49"/><text x="1902" y="515">regulation of<tspan x="1902" dy="15">cellular biosynthetic</tspan><tspan x="1902" dy="15">process</tspan></text></g>
<g id="nrncmp" class="n"><rect x="2048" y="493" width="141" height="64"/><text x="2118.5" y="507.5">negative regulation<tspan x="2118.5" dy="15">of nitrogen</tspan><tspan x="2118.5" dy="15">compound metabolic</tspan><tspan x="2118.5" dy="15">process</tspan></text></g>
<g id="prncmp" class="n"><rect x="2215" y="493" width="141" height="64"/><text x="2285.5" y="507.5">positive regulation<tspan x="2285.5" dy="15">of nitrogen</tspan><tspan x="2285.5" dy="15">compound metabolic</tspan><tspan x="2285.5" dy="15">process</tspan></text></g>
<g id="rnccmp" class="n"><rect x="2381" y="493" width="153" height="64"/><text x="2457.5" y="507.5">regulation of<tspan x="2457.5" dy="15">nucleobase-containing</tspan><tspan x="2457.5" dy="15">compound metabolic</tspan><tspan x="2457.5" dy="15">process</tspan></text></g>
<g id="ncbp" class="n"><rect x="2661" y="501" width="159" height="49"/><text x="2740.5" y="515">nucleobase-containing<tspan x="2740.5" dy="15">compound biosynthetic</tspan><tspan x="2740.5" dy="15">process</tspan></text></g>
<g id="nrcmp" class="n"><rect x="2895" y="501" width="133" height="49"/><text x="2961.5" y="515">negative regulation<tspan x="2961.5" dy="15">of cellular</tspan><tspan x="2961.5" dy="15">metabolic process</tspan></text></g>
<g id="prcmp" class="n"><rect x="3052" y="501" width="128" height="49"/><text x="3116" y="515">positive regulation<tspan x="3116" dy="15">of cellular</tspan><tspan x="3116" dy="15">metabolic process</tspan></text></g>
<g id="nct" class="n"><rect x="3205" y="501" width="130" height="49"/><text x="3270" y="522.5">nitrogen compound<tspan x="3270" dy="15">transport</tspan></text></g>
<g id="ost" class="n"><rect x="3361" y="501" width="122" height="49"/><text x="3422" y="522.5">organic substance<tspan x="3422" dy="15">transport</tspan></text></g>
<g id="itr" class="n"><rect x="3509" y="501" width="82" height="49"/><text x="3550" y="522.5">intracellular<tspan x="3550" dy="15">transport</tspan></text></g>
<g id="epl" class="n"><rect x="3617" y="501" width="147" height="49"/><text x="3690.5" y="522.5">establishment<tspan x="3690.5" dy="15">of protein localization</tspan></text></g>
<g id="pltoo" class="n"><rect x="3840" y="501" width="130" height="49"/><text x="3905" y="522.5">protein localization<tspan x="3905" dy="15">to organelle</tspan></text></g>
<g id="pltom" class="n"><rect x="4045" y="501" width="131" height="49"/><text x="4110.5" y="522.5">protein localization<tspan x="4110.5" dy="15">to membrane</tspan></text></g>
<g id="rploc" class="n"><rect x="4200" y="501" width="130" height="49"/><text x="4265" y="522.5">regulation of<tspan x="4265" dy="15">protein localization</tspan></text></g>
<g id="nrcd" class="n"><rect x="4405" y="501" width="134" height="49"/><text x="4472" y="522.5">negative regulation<tspan x="4472" dy="15">of cell death</tspan></text></g>
<g id="rpcd" class="n"><rect x="4613" y="501" width="118" height="49"/><text x="4672" y="515">regulation of<tspan x="4672" dy="15">programmed cell</tspan><tspan x="4672" dy="15">death</tspan></text></g>
<g id="ap" class="n"><rect x="4755" y="501" width="121" height="49"/><text x="4815.5" y="530">apoptotic process</text></g>
<g id="prcpp" class="n"><rect x="4901" y="501" width="129" height="49"/><text x="4965.5" y="515">positive regulation<tspan x="4965.5" dy="15">of cell population</tspan><tspan x="4965.5" dy="15">proliferation</tspan></text></g>
<g id="mbm" class="db"><rect x="5156" y="501" width="134" height="49"/><text x="5223" y="530">myoblast migration</text></g>
<g id="rcdev" class="n"><rect x="5324" y="501" width="118" height="49"/><text x="5383" y="522.5">regulation of<tspan x="5383" dy="15">cell development</tspan></text></g>
<g id="prdg" class="n"><rect x="5467" y="501" width="127" height="49"/><text x="5530.5" y="515">positive regulation<tspan x="5530.5" dy="15">of developmental</tspan><tspan x="5530.5" dy="15">growth</tspan></text></g>
<g id="rmcd" class="n"><rect x="5669" y="501" width="99" height="49"/><text x="5718.5" y="515">regulation of<tspan x="5718.5" dy="15">muscle cell</tspan><tspan x="5718.5" dy="15">differentiation</tspan></text></g>
<g id="smcd" class="n"><rect x="5792" y="501" width="126" height="49"/><text x="5855" y="522.5">striated muscle<tspan x="5855" dy="15">cell differentiation</tspan></text></g>
<g id="mcdev" class="n"><rect x="5993" y="501" width="89" height="49"/><text x="6037.5" y="522.5">muscle cell<tspan x="6037.5" dy="15">development</tspan></text></g>
<g id="rmtd" class="n"><rect x="6109" y="501" width="96" height="49"/><text x="6157" y="515">regulation of<tspan x="6157" dy="15">muscle tissue</tspan><tspan x="6157" dy="15">development</tspan></text></g>
<g id="csd" class="n"><rect x="6229" y="501" width="144" height="49"/><text x="6301" y="522.5">circulatory<tspan x="6301" dy="15">system development</tspan></text></g>
<g id="smod" class="n"><rect x="6550" y="501" width="133" height="49"/><text x="6616.5" y="522.5">skeletal muscle<tspan x="6616.5" dy="15">organ development</tspan></text></g>
<g id="smtr" class="db"><rect x="6859" y="501" width="132" height="49"/><text x="6925" y="522.5">skeletal muscle<tspan x="6925" dy="15">tissue regeneration</tspan></text></g>
<g id="htm" class="db"><rect x="7047" y="501" width="107" height="49"/><text x="7100.5" y="522.5">heart trabecula<tspan x="7100.5" dy="15">morphogenesis</tspan></text></g>

<g id="rge" class="n"><rect x="736" y="613" width="112" height="49"/><text x="792" y="634.5">regulation of<tspan x="792" dy="15">gene expression</tspan></text></g>
<g id="rmbp" class="n"><rect x="1026" y="605" width="106" height="64"/><text x="1079" y="619.5">regulation of<tspan x="1079" dy="15">macromolecule</tspan><tspan x="1079" dy="15">biosynthetic</tspan><tspan x="1079" dy="15">process</tspan></text></g>
<g id="nrmmp" class="n"><rect x="1155" y="613" width="134" height="49"/><text x="1222" y="627">negative regulation<tspan x="1222" dy="15">of macromolecule</tspan><tspan x="1222" dy="15">metabolic process</tspan></text></g>
<g id="prmmp" class="n"><rect x="1466" y="613" width="127" height="49"/><text x="1529.5" y="627">positive regulation<tspan x="1529.5" dy="15">of macromolecule</tspan><tspan x="1529.5" dy="15">metabolic process</tspan></text></g>
<g id="rnamp" class="n"><rect x="1668" y="613" width="103" height="49"/><text x="1719.5" y="634.5">RNA metabolic<tspan x="1719.5" dy="15">process</tspan></text></g>
<g id="nrcbp" class="n"><rect x="1796" y="605" width="133" height="64"/><text x="1862.5" y="619.5">negative regulation<tspan x="1862.5" dy="15">of cellular</tspan><tspan x="1862.5" dy="15">biosynthetic</tspan><tspan x="1862.5" dy="15">process</tspan></text></g>
<g id="prcbp" class="n"><rect x="1953" y="605" width="129" height="64"/><text x="2017.5" y="619.5">positive regulation<tspan x="2017.5" dy="15">of cellular</tspan><tspan x="2017.5" dy="15">biosynthetic</tspan><tspan x="2017.5" dy="15">process</tspan></text></g>
<g id="nrnccmp" class="n"><rect x="2273" y="605" width="171" height="64"/><text x="2358.5" y="619.5">negative regulation<tspan x="2358.5" dy="15">of nucleobase-containing</tspan><tspan x="2358.5" dy="15">compound metabolic</tspan><tspan x="2358.5" dy="15">process</tspan></text></g>
<g id="prnccmp" class="n"><rect x="2468" y="605" width="170" height="64"/><text x="2553" y="619.5">positive regulation<tspan x="2553" dy="15">of nucleobase-containing</tspan><tspan x="2553" dy="15">compound metabolic</tspan><tspan x="2553" dy="15">process</tspan></text></g>
<g id="ptrans" class="lb"><rect x="3483" y="613" width="114" height="49"/><text x="3540" y="642">protein transport</text></g>
<g id="pltoer" class="n"><rect x="3840" y="613" width="130" height="49"/><text x="3905" y="627">protein localization<tspan x="3905" dy="15">to endoplasmic</tspan><tspan x="3905" dy="15">reticulum</tspan></text></g>
<g id="epltom" class="n"><rect x="3995" y="613" width="148" height="49"/><text x="4069" y="627">establishment<tspan x="4069" dy="15">of protein localization</tspan><tspan x="4069" dy="15">to membrane</tspan></text></g>
<g id="nrploc" class="n"><rect x="4220" y="613" width="147" height="49"/><text x="4293.5" y="634.5">negative regulation<tspan x="4293.5" dy="15">of protein localization</tspan></text></g>
<g id="nrpcd" class="n"><rect x="4411" y="613" width="132" height="49"/><text x="4477" y="627">negative regulation<tspan x="4477" dy="15">of programmed</tspan><tspan x="4477" dy="15">cell death</tspan></text></g>
<g id="rap" class="n"><rect x="4619" y="613" width="121" height="49"/><text x="4679.5" y="634.5">regulation of<tspan x="4679.5" dy="15">apoptotic process</tspan></text></g>
<g id="mcap" class="n"><rect x="4765" y="613" width="121" height="49"/><text x="4825.5" y="634.5">muscle cell<tspan x="4825.5" dy="15">apoptotic process</tspan></text></g>
<g id="rsmcd" class="n"><rect x="5676" y="613" width="125" height="49"/><text x="5738.5" y="627">regulation of<tspan x="5738.5" dy="15">striated muscle</tspan><tspan x="5738.5" dy="15">cell differentiation</tspan></text></g>
<g id="mtdiff" class="n"><rect x="5825" y="613" width="160" height="49"/><text x="5905" y="642">myotube differentiation</text></g>
<g id="prmtd" class="n"><rect x="6093" y="613" width="128" height="49"/><text x="6157" y="627">positive regulation<tspan x="6157" dy="15">of muscle tissue</tspan><tspan x="6157" dy="15">development</tspan></text></g>
<g id="hdev" class="db"><rect x="6331" y="613" width="130" height="49"/><text x="6396" y="642">heart development</text></g>
<g id="smtd" class="n"><rect x="6549" y="613" width="134" height="49"/><text x="6616" y="634.5">skeletal muscle<tspan x="6616" dy="15">tissue development</tspan></text></g>

<g id="nrmbp" class="n"><rect x="1017" y="718" width="133" height="64"/><text x="1083.5" y="732.5">negative regulation<tspan x="1083.5" dy="15">of macromolecule</tspan><tspan x="1083.5" dy="15">biosynthetic</tspan><tspan x="1083.5" dy="15">process</tspan></text></g>
<g id="prmbp" class="n"><rect x="1175" y="718" width="128" height="64"/><text x="1239" y="732.5">positive regulation<tspan x="1239" dy="15">of macromolecule</tspan><tspan x="1239" dy="15">biosynthetic</tspan><tspan x="1239" dy="15">process</tspan></text></g>
<g id="rnabp" class="n"><rect x="1328" y="726" width="117" height="49"/><text x="1386.5" y="747.5">RNA biosynthetic<tspan x="1386.5" dy="15">process</tspan></text></g>
<g id="rrnamp" class="n"><rect x="1624" y="726" width="102" height="49"/><text x="1675" y="740">regulation of<tspan x="1675" dy="15">RNA metabolic</tspan><tspan x="1675" dy="15">process</tspan></text></g>
<g id="iptr" class="n"><rect x="3662" y="726" width="115" height="49"/><text x="3719.5" y="747.5">intracellular<tspan x="3719.5" dy="15">protein transport</tspan></text></g>
<g id="rpltoer" class="n"><rect x="3923" y="718" width="130" height="64"/><text x="3988" y="732.5">regulation of<tspan x="3988" dy="15">protein localization</tspan><tspan x="3988" dy="15">to endoplasmic</tspan><tspan x="3988" dy="15">reticulum</tspan></text></g>
<g id="nrap" class="n"><rect x="4467" y="726" width="133" height="49"/><text x="4533.5" y="740">negative regulation<tspan x="4533.5" dy="15">of apoptotic</tspan><tspan x="4533.5" dy="15">process</tspan></text></g>
<g id="rmcap" class="n"><rect x="4625" y="726" width="120" height="49"/><text x="4685" y="740">regulation of<tspan x="4685" dy="15">muscle cell</tspan><tspan x="4685" dy="15">apoptotic process</tspan></text></g>
<g id="smcap" class="n"><rect x="4822" y="726" width="106" height="49"/><text x="4875" y="740">striated muscle<tspan x="4875" dy="15">cell apoptotic</tspan><tspan x="4875" dy="15">process</tspan></text></g>
<g id="rmtdiff" class="n"><rect x="5701" y="726" width="160" height="49"/><text x="5781" y="747.5">regulation of<tspan x="5781" dy="15">myotube differentiation</tspan></text></g>
<g id="mtcd" class="n"><rect x="5951" y="726" width="91" height="49"/><text x="5996.5" y="747.5">myotube cell<tspan x="5996.5" dy="15">development</tspan></text></g>
<g id="hmorph" class="n"><rect x="6195" y="726" width="143" height="49"/><text x="6266.5" y="755">heart morphogenesis</text></g>
<g id="rsmtd" class="n"><rect x="6414" y="726" width="134" height="49"/><text x="6481" y="740">regulation of<tspan x="6481" dy="15">skeletal muscle</tspan><tspan x="6481" dy="15">tissue development</tspan></text></g>
<g id="smtg" class="n"><rect x="6624" y="726" width="109" height="49"/><text x="6678.5" y="747.5">skeletal muscle<tspan x="6678.5" dy="15">tissue growth</tspan></text></g>
<g id="ccd" class="n"><rect x="6760" y="726" width="115" height="49"/><text x="6817.5" y="747.5">cardiac chamber<tspan x="6817.5" dy="15">development</tspan></text></g>

<g id="nat" class="n"><rect x="987" y="837" width="154" height="49"/><text x="1064" y="858.5">nucleic acid-templated<tspan x="1064" dy="15">transcription</tspan></text></g>
<g id="rrnabp" class="n"><rect x="1465" y="837" width="119" height="49"/><text x="1524.5" y="851">regulation of<tspan x="1524.5" dy="15">RNA biosynthetic</tspan><tspan x="1524.5" dy="15">process</tspan></text></g>
<g id="nrrnamp" class="n"><rect x="1608" y="837" width="134" height="49"/><text x="1675" y="851">negative regulation<tspan x="1675" dy="15">of RNA metabolic</tspan><tspan x="1675" dy="15">process</tspan></text></g>
<g id="prrnamp" class="n"><rect x="1765" y="837" width="128" height="49"/><text x="1829" y="851">positive regulation<tspan x="1829" dy="15">of RNA metabolic</tspan><tspan x="1829" dy="15">process</tspan></text></g>
<g id="ptarg" class="n"><rect x="3715" y="837" width="114" height="49"/><text x="3772" y="866">protein targeting</text></g>
<g id="nrpltoer" class="lb"><rect x="3905" y="829" width="147" height="64"/><text x="3978.5" y="843.5">negative regulation<tspan x="3978.5" dy="15">of protein localization</tspan><tspan x="3978.5" dy="15">to endoplasmic</tspan><tspan x="3978.5" dy="15">reticulum</tspan></text></g>
<g id="nrmcap" class="n"><rect x="4593" y="837" width="133" height="49"/><text x="4659.5" y="851">negative regulation<tspan x="4659.5" dy="15">of muscle cell</tspan><tspan x="4659.5" dy="15">apoptotic process</tspan></text></g>
<g id="rsmcap" class="n"><rect x="4751" y="829" width="106" height="64"/><text x="4804" y="843.5">regulation of<tspan x="4804" dy="15">striated muscle</tspan><tspan x="4804" dy="15">cell apoptotic</tspan><tspan x="4804" dy="15">process</tspan></text></g>
<g id="cpihm" class="n"><rect x="5108" y="837" width="145" height="49"/><text x="5180.5" y="851">cell proliferation<tspan x="5180.5" dy="15">involved in</tspan><tspan x="5180.5" dy="15">heart morphogenesis</tspan></text></g>
<g id="smfd" class="n"><rect x="5933" y="837" width="125" height="49"/><text x="5995.5" y="858.5">skeletal muscle<tspan x="5995.5" dy="15">fiber development</tspan></text></g>
<g id="rsmtg" class="n"><rect x="6284" y="837" width="109" height="49"/><text x="6338.5" y="851">regulation of<tspan x="6338.5" dy="15">skeletal muscle</tspan><tspan x="6338.5" dy="15">tissue growth</tspan></text></g>
<g id="prsmtd" class="n"><rect x="6417" y="829" width="128" height="64"/><text x="6481" y="843.5">positive regulation<tspan x="6481" dy="15">of skeletal</tspan><tspan x="6481" dy="15">muscle tissue</tspan><tspan x="6481" dy="15">development</tspan></text></g>
<g id="cvd" class="db"><rect x="6760" y="837" width="115" height="49"/><text x="6817.5" y="858.5">cardiac ventricle<tspan x="6817.5" dy="15">development</tspan></text></g>

<g id="dtt" class="n"><rect x="904" y="948" width="106" height="49"/><text x="957" y="969.5">DNA-templated<tspan x="957" dy="15">transcription</tspan></text></g>
<g id="rnat" class="n"><rect x="1085" y="948" width="154" height="49"/><text x="1162" y="962">regulation of<tspan x="1162" dy="15">nucleic acid-templated</tspan><tspan x="1162" dy="15">transcription</tspan></text></g>
<g id="nrrnabp" class="n"><rect x="1315" y="948" width="135" height="49"/><text x="1382.5" y="962">negative regulation<tspan x="1382.5" dy="15">of RNA biosynthetic</tspan><tspan x="1382.5" dy="15">process</tspan></text></g>
<g id="prrnabp" class="n"><rect x="1474" y="948" width="135" height="49"/><text x="1541.5" y="962">positive regulation<tspan x="1541.5" dy="15">of RNA biosynthetic</tspan><tspan x="1541.5" dy="15">process</tspan></text></g>
<g id="ptm" class="lb"><rect x="3873" y="948" width="115" height="49"/><text x="3930.5" y="969.5">protein targeting<tspan x="3930.5" dy="15">to membrane</tspan></text></g>
<g id="nrsmcap" class="db"><rect x="4737" y="940" width="134" height="64"/><text x="4804" y="954.5">negative regulation<tspan x="4804" dy="15">of striated</tspan><tspan x="4804" dy="15">muscle cell</tspan><tspan x="4804" dy="15">apoptotic process</tspan></text></g>
<g id="rcpihm" class="n"><rect x="5003" y="940" width="143" height="64"/><text x="5074.5" y="954.5">regulation of<tspan x="5074.5" dy="15">cell proliferation</tspan><tspan x="5074.5" dy="15">involved in</tspan><tspan x="5074.5" dy="15">heart morphogenesis</tspan></text></g>
<g id="rsmfd" class="db"><rect x="5719" y="948" width="124" height="49"/><text x="5781" y="962">regulation of<tspan x="5781" dy="15">skeletal muscle</tspan><tspan x="5781" dy="15">fiber development</tspan></text></g>
<g id="prsmtg" class="db"><rect x="6345" y="940" width="127" height="64"/><text x="6408.5" y="954.5">positive regulation<tspan x="6408.5" dy="15">of skeletal</tspan><tspan x="6408.5" dy="15">muscle tissue</tspan><tspan x="6408.5" dy="15">growth</tspan></text></g>

<g id="trnap2" class="n"><rect x="657" y="1061" width="134" height="49"/><text x="724" y="1075">transcription<tspan x="724" dy="15">by RNA polymerase</tspan><tspan x="724" dy="15">II</tspan></text></g>
<g id="rdtt" class="n"><rect x="829" y="1061" width="106" height="49"/><text x="882" y="1075">regulation of<tspan x="882" dy="15">DNA-templated</tspan><tspan x="882" dy="15">transcription</tspan></text></g>
<g id="nrnat" class="n"><rect x="1063" y="1061" width="170" height="49"/><text x="1148" y="1075">negative regulation<tspan x="1148" dy="15">of nucleic acid-templated</tspan><tspan x="1148" dy="15">transcription</tspan></text></g>
<g id="prnat" class="n"><rect x="1258" y="1061" width="172" height="49"/><text x="1344" y="1075">positive regulation<tspan x="1344" dy="15">of nucleic acid-templated</tspan><tspan x="1344" dy="15">transcription</tspan></text></g>
<g id="prcpihm" class="db"><rect x="5003" y="1053" width="143" height="64"/><text x="5074.5" y="1067.5">positive regulation<tspan x="5074.5" dy="15">of cell proliferation</tspan><tspan x="5074.5" dy="15">involved in</tspan><tspan x="5074.5" dy="15">heart morphogenesis</tspan></text></g>

<g id="rtrnap2" class="n"><rect x="755" y="1165" width="134" height="64"/><text x="822" y="1179.5">regulation of<tspan x="822" dy="15">transcription</tspan><tspan x="822" dy="15">by RNA polymerase</tspan><tspan x="822" dy="15">II</tspan></text></g>
<g id="nrdtt" class="n"><rect x="915" y="1173" width="132" height="49"/><text x="981" y="1187">negative regulation<tspan x="981" dy="15">of DNA-templated</tspan><tspan x="981" dy="15">transcription</tspan></text></g>
<g id="prdtt" class="n"><rect x="1072" y="1173" width="128" height="49"/><text x="1136" y="1187">positive regulation<tspan x="1136" dy="15">of DNA-templated</tspan><tspan x="1136" dy="15">transcription</tspan></text></g>

<g id="nrtrnap2" class="db"><rect x="677" y="1278" width="134" height="64"/><text x="744" y="1292.5">negative regulation<tspan x="744" dy="15">of transcription</tspan><tspan x="744" dy="15">by RNA polymerase</tspan><tspan x="744" dy="15">II</tspan></text></g>
<g id="prtrnap2" class="db"><rect x="835" y="1278" width="134" height="64"/><text x="902" y="1292.5">positive regulation<tspan x="902" dy="15">of transcription</tspan><tspan x="902" dy="15">by RNA polymerase</tspan><tspan x="902" dy="15">II</tspan></text></g>
</g>
</svg>
